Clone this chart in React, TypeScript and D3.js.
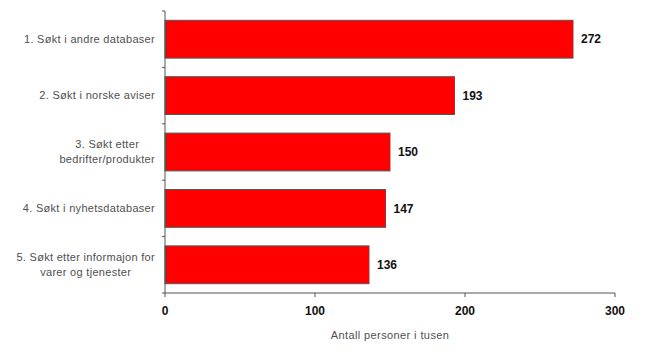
import React from "react";
import * as d3 from "d3";

const categories: string[][] = [
  ["1. Søkt i andre databaser"],
  ["2. Søkt i norske aviser"],
  ["3. Søkt etter", "bedrifter/produkter"],
  ["4. Søkt i nyhetsdatabaser"],
  ["5. Søkt etter informajon for", "varer og tjenester"],
];
const values: number[] = [272, 193, 150, 147, 136];
const xTicks: number[] = [0, 100, 200, 300];
const xTitle = "Antall personer i tusen";

const W = 664;
const H = 363;
const margin = { left: 165, right: 49, top: 11, bottom: 70 };
const FAMILY = "Arial, 'Liberation Sans', sans-serif";
const labelSize = 11;
const labelSpacing = 0.3;

function textWidth(s: string): number {
  const c = document.createElement("canvas").getContext("2d");
  if (!c) return s.length * 6;
  c.font = `${labelSize}px ${FAMILY}`;
  return c.measureText(s).width + labelSpacing * s.length;
}

export default function App() {
  const x = d3.scaleLinear().domain([0, 300]).range([margin.left, W - margin.right]);
  const y = d3
    .scaleBand<number>()
    .domain(d3.range(values.length))
    .range([margin.top, H - margin.bottom])
    .paddingInner(0.33)
    .paddingOuter(0.165);
  const y0 = margin.top;
  const y1 = H - margin.bottom;
  const step = y.step();
  const boundaries = d3.range(values.length + 1).map((i) => y0 + i * step);

  return (
    <svg width={W} height={H} style={{ position: "absolute", left: 0, top: 0 }}>
      <rect width={W} height={H} fill="#fff" />
      {values.map((v, i) => (
        <g key={i}>
          <rect
            x={x(0)}
            y={y(i)}
            width={x(v) - x(0)}
            height={y.bandwidth()}
            fill="#ff0000"
            stroke="#555"
            strokeWidth={1}
          />
          <text
            x={x(v) + 8}
            y={(y(i) ?? 0) + y.bandwidth() / 2}
            dy="0.35em"
            fontFamily={FAMILY}
            fontSize={12}
            fontWeight="bold"
            fill="#111"
          >
            {v}
          </text>
        </g>
      ))}
      {categories.map((lines, i) => {
        const maxW = Math.max(...lines.map((l) => textWidth(l)));
        const cx = 155 - maxW / 2;
        const cy = (y(i) ?? 0) + y.bandwidth() / 2;
        const lh = 15;
        return (
          <text
            key={i}
            x={cx}
            textAnchor="middle"
            fontFamily={FAMILY}
            fontSize={labelSize}
            letterSpacing={labelSpacing}
            fill="#505050"
          >
            {lines.map((l, j) => (
              <tspan key={j} x={cx} y={cy + (j - (lines.length - 1) / 2) * lh} dy="0.35em">
                {l}
              </tspan>
            ))}
          </text>
        );
      })}
      {/* y axis */}
      <line x1={x(0)} x2={x(0)} y1={y0} y2={y1} stroke="#555" />
      {boundaries.map((b, i) => (
        <line key={i} x1={x(0) - 3} x2={x(0)} y1={b} y2={b} stroke="#555" />
      ))}
      {/* x axis */}
      <line x1={x(0)} x2={x(300)} y1={y1} y2={y1} stroke="#555" />
      {xTicks.map((t) => (
        <g key={t}>
          <line x1={x(t)} x2={x(t)} y1={y1} y2={y1 + 4} stroke="#555" />
          <text
            x={x(t)}
            y={y1 + 18}
            dy="0.35em"
            textAnchor="middle"
            fontFamily={FAMILY}
            fontSize={12}
            fontWeight="bold"
            fill="#111"
          >
            {t}
          </text>
        </g>
      ))}
      <text
        x={(x(0) + x(300)) / 2}
        y={y1 + 42}
        dy="0.35em"
        textAnchor="middle"
        fontFamily={FAMILY}
        fontSize={11}
        letterSpacing={0.4}
        fill="#505050"
      >
        {xTitle}
      </text>
    </svg>
  );
}
